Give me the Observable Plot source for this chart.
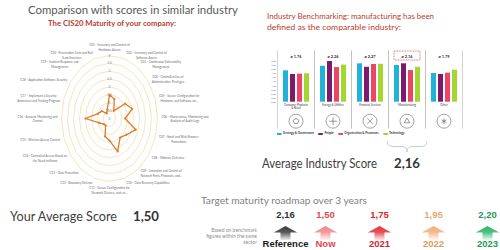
<!DOCTYPE html>
<html><head><meta charset="utf-8">
<script src="https://cdn.jsdelivr.net/npm/d3@7"></script>
<script src="https://cdn.jsdelivr.net/npm/@observablehq/plot@0.6"></script>
<style>
html,body{margin:0;padding:0;background:#fff}
body{width:500px;height:250px;position:relative;overflow:hidden;font-family:Lato,"Open Sans",sans-serif}
.abs{position:absolute;white-space:pre;line-height:1}
.legend{position:absolute;display:flex;align-items:center;font-weight:bold;color:#333;white-space:nowrap;line-height:1}
.legend .it{display:flex;align-items:center;margin-right:5px}
.legend .sw{display:inline-block;width:5px;height:2.6px;margin-right:1.5px}
</style></head><body>
<script>
// ---------------- data ----------------
const cisControls = [
  "C01 - Inventory and Control of\nHardware Assets",
  "C02 - Inventory and Control of\nSoftware Assets",
  "C03 - Continuous Vulnerability\nManagement",
  "C04 - Controlled Use of\nAdministrative Privileges",
  "C05 - Secure Configuration for\nHardware and Software on...",
  "C06 - Maintenance, Monitoring and\nAnalysis of Audit Logs",
  "C07 - Email and Web Browser\nProtections",
  "C08 - Malware Defenses",
  "C09 - Limitation and Control of\nNetwork Ports, Protocols, and...",
  "C10 - Data Recovery Capabilities",
  "C11 - Secure Configuration for\nNetwork Devices, such as...",
  "C12 - Boundary Defense",
  "C13 - Data Protection",
  "C14 - Controlled Access Based on\nthe Need to Know",
  "C15 - Wireless Access Control",
  "C16 - Account Monitoring and\nControl",
  "C17 - Implement a Security\nAwareness and Training Program",
  "C18 - Application Software Security",
  "C19 - Incident Response and\nManagement",
  "C20 - Penetration Tests and Red\nTeam Exercises"
];
const cisScores = [1.5, 1.3, 0.6, 1.6, 2.0, 1.3, 2.3, 1.75, 1.5, 2.2, 1.4, 1.2, 0.55, 0.6, 0.9, 2.0, 1.0, 0.8, 0.4, 0.6];
const radarLevels = [0.5, 1, 1.5, 2, 2.5, 3, 3.5, 4];
const radarTickValues = [0, 0.5, 1, 1.5, 2, 2.5, 3, 3.5, 4];
const radarTickLabels = ["0", "0,5", "1", "1,5", "2", "2,5", "3", "3,5", "4"];

const industries = ["Consumer Products\n& Retail", "Energy & Utilities", "Financial Services", "Manufacturing", "Other"];
const industryAverages = ["ø 1.76", "ø 2.26", "ø 2.27", "ø 2.16", "ø 1.79"];
const comparableIndustry = "Manufacturing";
const dimensions = ["Strategy & Governance", "People", "Organisation & Processes", "Technology"];
const dimColors = ["#21b2d8", "#7c1a6c", "#ee4566", "#a3d631"];
const strategyScores = [1.91, 2.19, 2.34, 2.24, 1.75];
const peopleScores = [1.69, 2.48, 2.13, 2.34, 1.69];
const organisationScores = [1.71, 2.11, 2.30, 1.93, 1.77];
const technologyScores = [1.73, 2.26, 2.31, 2.13, 1.95];
const barTicks = [0, 0.25, 0.5, 0.75, 1, 1.25, 1.5, 1.75, 2, 2.25, 2.5];

const yourAverageScore = "1,50";
const industryAverageScore = "2,16";
const referenceSteps = ["Reference"];
const referenceValues = ["2,16"];
const referenceColors = ["#3b3b3b"];
const referenceValueColors = ["#333333"];
const referenceLabelColors = ["#1a1a1a"];
const roadmapSteps = ["Now", "2021", "2022", "2023"];
const roadmapValues = ["1,50", "1,75", "1,95", "2,20"];
const roadmapColors = ["#f4878a", "#e6323a", "#f5ad78", "#2db56b"];
const roadmapValueColors = ["#e04a4f", "#d4262e", "#e9a76f", "#22995a"];
const roadmapLabelColors = ["#e3464b", "#c8262d", "#e39a5a", "#1f9a55"];
const benchmarkNote = ["Based on benchmark", "figures within the same", "sector"];

// ---------------- helpers ----------------
const FONT = "Lato, 'Open Sans', sans-serif";
const NARROW = "'Liberation Sans Narrow', 'Liberation Sans', Arial, sans-serif";

function place(node, left, top) {
  const d = document.createElement("div");
  d.style.position = "absolute"; d.style.left = left + "px"; d.style.top = top + "px";
  d.appendChild(node); document.body.appendChild(d); return d;
}
function addText(txt, o) {
  const d = document.createElement("div");
  d.className = "abs"; d.textContent = txt;
  d.style.fontSize = o.size + "px";
  d.style.color = o.color || "#404040";
  d.style.fontWeight = o.weight || "normal";
  d.style.fontFamily = o.family || FONT;
  d.style.top = (o.cy - o.size * 0.55) + "px";
  document.body.appendChild(d);
  const w = d.getBoundingClientRect().width;
  if (o.width) {
    d.style.transformOrigin = "0 50%";
    d.style.transform = `scaleX(${o.width / w})`;
    d.style.left = o.x + "px";
  } else if (o.right != null) {
    d.style.left = (o.right - w) + "px";
  } else d.style.left = o.x + "px";
  return d;
}

// ---------------- texts ----------------
addText("Comparison with scores in similar industry", { x: 28, cy: 10, size: 11, width: 210, color: "#595959" });
addText("The CIS20 Maturity of your company:", { x: 48, cy: 24, size: 7.5, width: 128, weight: "bold", color: "#b93a32" });
addText("Industry Benchmarking: manufacturing has been", { x: 267, cy: 17, size: 7.6, width: 167, color: "#c0392b" });
addText("defined as the comparable industry:", { x: 267, cy: 28.5, size: 7.6, width: 134, color: "#c0392b" });
addText("Your Average Score", { x: 10, cy: 216.5, size: 14, width: 107, color: "#404040" });
addText(yourAverageScore, { x: 133, cy: 216.5, size: 14, width: 26, weight: "bold", color: "#333" });
addText("Average Industry Score", { x: 262, cy: 164, size: 13, width: 115, color: "#404040" });
addText(industryAverageScore, { x: 394, cy: 164, size: 13, width: 26, weight: "bold", color: "#333" });
addText("Target maturity roadmap over 3 years", { x: 201, cy: 201.5, size: 9.5, width: 166, color: "#7f7f7f" });
benchmarkNote.forEach((t, i) => addText(t, { right: 257, cy: 231 + i * 6, size: 5, color: "#8c8c8c" }));

// ---------------- radar ----------------
const PXX = 12, PXY = 15.75;          // pixels per score unit (horizontal, vertical)
const LABEL_SIZE = 3.0, LABEL_LH = 1.6;
const n = cisScores.length;
const ang = i => (2 * Math.PI * i) / n;
const radarPts = cisScores.map((v, i) => ({ x: v * Math.sin(ang(i)), y: v * Math.cos(ang(i)) }));
const ringPts = radarLevels.flatMap(L => d3.range(n + 1).map(i => ({ level: L, x: L * Math.sin(ang(i)), y: L * Math.cos(ang(i)) })));
const tickPts = radarTickValues.map((v, i) => ({ x: 0, y: v, label: radarTickLabels[i] }));
const measureCtx = document.createElement("canvas").getContext("2d");
measureCtx.font = `${LABEL_SIZE}px Lato`;
const labelPts = cisControls.map((t, i) => {
  const s = Math.sin(ang(i)), c = Math.cos(ang(i));
  const lines = t.split("\n");
  const w = d3.max(lines, l => measureCtx.measureText(l).width);
  const h = lines.length * LABEL_SIZE * LABEL_LH;
  const ax = 51 * s, ay = 67 * c;
  const px = ax + (s > 0.01 ? w / 2 + 1 : s < -0.01 ? -w / 2 - 1 : 0);
  const py = ay + (c > 0.99 ? h / 2 : c < -0.99 ? -h / 2 : 0);
  return { x: px / PXX, y: py / PXY, text: t };
});

const radar = Plot.plot({
  width: 216, height: 156, margin: 0,
  x: { domain: [-108 / PXX, 108 / PXX], axis: null },
  y: { domain: [-78 / PXY, 78 / PXY], axis: null },
  style: { background: "transparent", overflow: "visible" },
  marks: [
    Plot.line(ringPts, { x: "x", y: "y", z: "level", stroke: "#f2ddb0", strokeWidth: 0.8 }),
    Plot.text(tickPts, { x: "x", y: "y", text: "label", fontSize: 3.4, fill: "#8a8a8a", fontFamily: FONT }),
    Plot.line(radarPts, { x: "x", y: "y", curve: "linear-closed", stroke: "#e07b2b", strokeWidth: 1.3 }),
    Plot.dot(radarPts, { x: "x", y: "y", r: 1.1, fill: "#e07b2b" }),
    Plot.text(labelPts, { x: "x", y: "y", text: "text", fontSize: LABEL_SIZE, lineHeight: LABEL_LH, fill: "#6b6b6b", fontFamily: FONT })
  ]
});
place(radar, 1, 40);

// ---------------- industry bars ----------------
const industryRows = industries.map((d, i) => ({ industry: d, avg: industryAverages[i] }));
const scoreSeries = [strategyScores, peopleScores, organisationScores, technologyScores];
const barRows = industries.flatMap((ind, i) => dimensions.map((dim, j) => ({ industry: ind, dim, value: scoreSeries[j][i] })));
const comparableRows = industryRows.filter(d => d.industry === comparableIndustry);
const FW = 37, FH = 78;
const boxSymbol = { draw(ctx) { ctx.rect(-13, -4.5, 26, 9); } };
const braceSymbol = { draw(ctx) {
  ctx.moveTo(-20, -5.5); ctx.quadraticCurveTo(-20, 0, -14, 0); ctx.lineTo(-5, 0);
  ctx.quadraticCurveTo(0, 0, 0, 5.5); ctx.quadraticCurveTo(0, 0, 5, 0); ctx.lineTo(14, 0);
  ctx.quadraticCurveTo(20, 0, 20, -5.5);
} };

const bars = Plot.plot({
  width: 207, height: 106, marginLeft: 15, marginRight: 7, marginTop: 4, marginBottom: 24,
  fx: { domain: industries, padding: 0, axis: null },
  x: { domain: dimensions, paddingInner: 0.315, paddingOuter: 0.66, axis: null },
  y: { domain: [-1.604, 3.152], ticks: barTicks, tickFormat: ".2f", tickSize: 0, tickPadding: 1.5, label: null },
  color: { domain: dimensions, range: dimColors },
  style: { background: "transparent", overflow: "visible", fontSize: "2.4px", color: "#666", fontFamily: FONT },
  marks: [
    Plot.frame({ stroke: "#b5b5b5", strokeWidth: 0.6, strokeDasharray: `0 ${FW} ${FH} ${FW} ${FH}` }),
    Plot.text(industryRows, { fx: "industry", text: "avg", frameAnchor: "top", dy: 5, fontSize: 4, fontWeight: "bold", fill: "#333", fontFamily: FONT }),
    Plot.dot(comparableRows, { fx: "industry", frameAnchor: "top", dy: 5, symbol: boxSymbol, stroke: "#c0392b", strokeWidth: 0.7, strokeDasharray: "0.9 0.7", fill: "none" }),
    Plot.barY(barRows, { fx: "industry", x: "dim", y: "value", fill: "dim" }),
    Plot.text(industryRows, { fx: "industry", text: "industry", frameAnchor: "bottom", dy: -24.5, lineAnchor: "top", fontSize: 2.8, fill: "#333", fontFamily: FONT }),
    Plot.dot(industryRows, { fx: "industry", frameAnchor: "bottom", dy: -7.3, r: 7, stroke: "#666", strokeWidth: 0.6, fill: "white" }),
    Plot.dot(industryRows, { fx: "industry", frameAnchor: "bottom", dy: -7.3, r: 2.6, symbol: "industry", stroke: "#555", strokeWidth: 0.6, fill: "none" }),
    Plot.dot(comparableRows, { fx: "industry", frameAnchor: "bottom", dy: 18, symbol: braceSymbol, stroke: "#a9c4d2", strokeWidth: 0.8, fill: "none" })
  ]
});
place(bars, 262, 46);

// legend
const leg = document.createElement("div");
leg.className = "legend";
leg.style.fontSize = "3.3px"; leg.style.fontFamily = FONT;
leg.style.left = "277px"; leg.style.top = "132.3px";
dimensions.forEach((d, i) => {
  const it = document.createElement("div"); it.className = "it";
  const sw = document.createElement("span"); sw.className = "sw"; sw.style.background = dimColors[i];
  it.appendChild(sw); it.appendChild(document.createTextNode(d)); leg.appendChild(it);
});
document.body.appendChild(leg);
{ const w = leg.getBoundingClientRect().width; leg.style.transformOrigin = "0 50%"; leg.style.transform = `scaleX(${132 / w})`; }

// ---------------- roadmap ----------------
const arrowSymbol = { draw(ctx) {
  ctx.moveTo(0, -6.5); ctx.lineTo(11.8, 0); ctx.lineTo(5, 0); ctx.lineTo(5, 7.5);
  ctx.lineTo(-5, 7.5); ctx.lineTo(-5, 0); ctx.lineTo(-11.8, 0); ctx.closePath();
} };
function roadmap(steps, values, colors, vcolors, lcolors, key, width, mLeft, mRight) {
  const rows = steps.map((s, i) => ({ step: s, value: values[i], color: colors[i], vcolor: vcolors[i], lcolor: lcolors[i] }));
  const svg = Plot.plot({
    width, height: 47, marginLeft: mLeft, marginRight: mRight, marginTop: 0, marginBottom: 0,
    x: { type: "point", domain: steps, padding: 0, axis: null },
    color: { type: "identity" },
    style: { background: "transparent", overflow: "visible" },
    marks: [
      Plot.text(rows, { x: "step", frameAnchor: "top", dy: 8, text: "value", fill: "vcolor", fontSize: 9.5, fontWeight: "bold", fontFamily: NARROW }),
      Plot.dot(rows, { x: "step", frameAnchor: "top", dy: 29, symbol: arrowSymbol, r: 10, fill: "color", stroke: "none" }),
      Plot.text(rows, { x: "step", frameAnchor: "bottom", dy: -4, text: "step", fill: "lcolor", fontSize: 9.5, fontWeight: "bold", fontFamily: NARROW })
    ]
  });
  const s = d3.select(svg);
  const defs = s.insert("defs", ":first-child");
  rows.forEach((r, i) => {
    const g = defs.append("linearGradient").attr("id", `${key}-${i}`).attr("x1", 0).attr("y1", 0).attr("x2", 0).attr("y2", 1);
    g.append("stop").attr("offset", "0%").attr("stop-color", r.color).attr("stop-opacity", 1);
    g.append("stop").attr("offset", "45%").attr("stop-color", r.color).attr("stop-opacity", 0.85);
    g.append("stop").attr("offset", "100%").attr("stop-color", r.color).attr("stop-opacity", 0.08);
  });
  s.selectAll('g[aria-label="dot"] path').attr("fill", (d, i) => `url(#${key}-${i})`);
  return svg;
}
place(roadmap(referenceSteps, referenceValues, referenceColors, referenceValueColors, referenceLabelColors, "ref", 50, 25, 25), 260, 203);
place(roadmap(roadmapSteps, roadmapValues, roadmapColors, roadmapValueColors, roadmapLabelColors, "road", 200, 25, 13), 300, 203);
</script>
</body></html>
